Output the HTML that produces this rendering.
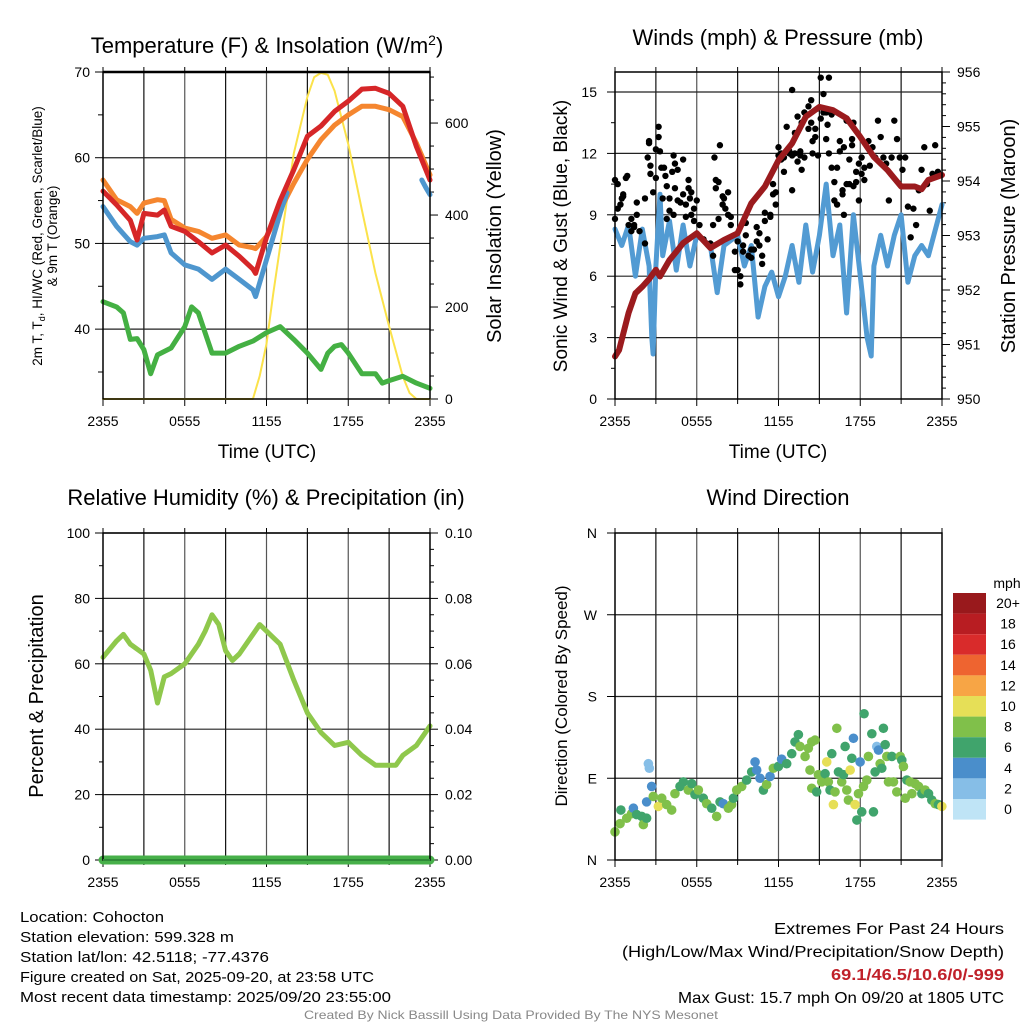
<!DOCTYPE html>
<html><head><meta charset="utf-8"><style>
html,body{margin:0;padding:0;background:#fff;overflow:hidden;}
svg{display:block;font-family:"Liberation Sans",sans-serif;}
</style></head><body>
<svg id="fig" xmlns="http://www.w3.org/2000/svg" width="1024" height="1024" viewBox="0 0 1024 1024">
<rect width="1024" height="1024" fill="#fff"/>
<g id="layer"></g>
<text x="267" y="53" font-size="22" text-anchor="middle">Temperature (F) &amp; Insolation (W/m<tspan dy="-8" font-size="14">2</tspan><tspan dy="8">)</tspan></text>
<text x="778" y="45" font-size="22" text-anchor="middle">Winds (mph) &amp; Pressure (mb)</text>
<text x="266" y="505" font-size="22" text-anchor="middle">Relative Humidity (%) &amp; Precipitation (in)</text>
<text x="778" y="505" font-size="22" text-anchor="middle">Wind Direction</text>
<text x="267" y="458" font-size="19" text-anchor="middle">Time (UTC)</text>
<text x="778" y="458" font-size="19" text-anchor="middle">Time (UTC)</text>
<g transform="translate(42,236) rotate(-90)">
<text x="0" y="0" font-size="13.5" text-anchor="middle">2m T, T<tspan font-size="9" dy="3">d</tspan><tspan dy="-3">, HI/WC (Red, Green, Scarlet/Blue)</tspan></text>
<text x="0" y="15" font-size="13.5" text-anchor="middle">&amp; 9m T (Orange)</text></g>
<text transform="translate(501,236) rotate(-90)" font-size="20" text-anchor="middle">Solar Insolation (Yellow)</text>
<text transform="translate(567,236) rotate(-90)" font-size="19" text-anchor="middle">Sonic Wind &amp; Gust (Blue, Black)</text>
<text transform="translate(1015,236) rotate(-90)" font-size="20" text-anchor="middle">Station Pressure (Maroon)</text>
<text transform="translate(43,696) rotate(-90)" font-size="20" text-anchor="middle">Percent &amp; Precipitation</text>
<text transform="translate(567,696) rotate(-90)" font-size="17" text-anchor="middle">Direction (Colored By Speed)</text>
<g font-size="15">
<text x="20" y="922" textLength="144" lengthAdjust="spacingAndGlyphs">Location: Cohocton</text>
<text x="20" y="942" textLength="214" lengthAdjust="spacingAndGlyphs">Station elevation: 599.328 m</text>
<text x="20" y="962" textLength="249" lengthAdjust="spacingAndGlyphs">Station lat/lon: 42.5118; -77.4376</text>
<text x="20" y="982" textLength="354" lengthAdjust="spacingAndGlyphs">Figure created on Sat, 2025-09-20, at 23:58 UTC</text>
<text x="20" y="1002" textLength="371" lengthAdjust="spacingAndGlyphs">Most recent data timestamp: 2025/09/20 23:55:00</text>
</g>
<g font-size="16">
<text x="774" y="934" textLength="230" lengthAdjust="spacingAndGlyphs">Extremes For Past 24 Hours</text>
<text x="622" y="957" textLength="382" lengthAdjust="spacingAndGlyphs">(High/Low/Max Wind/Precipitation/Snow Depth)</text>
<text x="831" y="980" textLength="173" lengthAdjust="spacingAndGlyphs" fill="#c0212a" font-weight="bold">69.1/46.5/10.6/0/-999</text>
<text x="678" y="1003" textLength="326" lengthAdjust="spacingAndGlyphs">Max Gust: 15.7 mph On 09/20 at 1805 UTC</text>
</g>
<text x="304" y="1019" font-size="12" fill="#888" textLength="414" lengthAdjust="spacingAndGlyphs">Created By Nick Bassill Using Data Provided By The NYS Mesonet</text>
</svg>
<script>
const tempHours = [0,1,2,2.5,3,4,4.5,5,6,7,8,9,10,11,11.2,12,13,14,15,16,17,18,19,20,21,22,23,24];
const tempRed = [56.1,54.5,52.7,50.4,53.5,53.3,53.9,52,51.4,50.2,48.9,49.8,48.5,47,46.5,50.7,55,58.6,62.5,63.7,65.4,66.6,68,68.1,67.5,66,61.3,57.4];
const tempOrange = [57.4,55.1,54.3,53.5,54.7,55.1,55,52.8,51.8,51.4,50.6,51,49.8,49.5,49.4,50.8,53.9,57,59.8,62.1,63.8,65,66,66,65.6,64.8,61.7,58];
const heatIndexHours = [0,1,2,2.5,3,4,4.5,5,6,7,8,9,10,11,11.2,12,13,13.5];
const heatIndex = [54.3,52,50.2,49.8,50.6,50.8,51,48.9,47.5,47,45.8,47,45.8,44.6,43.8,48.1,53.5,55.9];
const heatIndexHours2 = [23.4,23.7,24];
const heatIndex2 = [57.4,56.5,55.7];
const dewHours = [0,1,1.5,2,2.5,3,3.5,4,5,6,6.5,7,8,9,10,11,12,13,14,15,16,16.5,17,17.5,18,19,20,20.5,21,22,23,24];
const dewPoint = [43.2,42.6,41.9,38.8,38.9,37.6,34.8,37,37.8,40.3,42.6,41.9,37.2,37.2,38,38.6,39.6,40.3,38.8,37.2,35.3,37.2,38,38.2,37.2,34.8,34.8,33.7,34,34.5,33.7,33.1];
const solarHours = [0,11,11.5,12,12.5,13,14,15,15.5,16,16.5,17,18,19,20,21,22,22.5,23,24];
const solar = [0,0,50,120,230,331,534,657,700,709,705,670,554,411,273,158,49,13,0,0];

const presHours = [0,0.3,1,1.5,2,2.5,3,3.3,4,4.5,5,6,7,8,9,10,11,12,13,14,15,16,17,18,19,20,21,22,22.5,23,24];
const pressure = [950.78,950.9,951.58,951.94,952.06,952.2,952.37,952.25,952.55,952.7,952.86,953.04,952.77,952.92,953.04,953.59,953.9,954.38,954.69,955.18,955.36,955.3,955.15,954.81,954.44,954.2,953.9,953.9,953.85,954.02,954.11];
const windHours = [0,0.5,1,1.5,2,2.5,2.7,2.8,3,3.3,3.5,4,4.5,5,5.5,6,7,7.5,8,9,9.5,10,10.5,11,11.5,12,12.5,13,13.5,14,14.5,15,15.5,16,16.5,17,17.5,18,18.5,18.8,19,19.5,20,20.5,21,21.5,22,22.5,23,24];
const windSpeed = [8.3,7.5,8.5,6.0,8.3,6.5,3.0,2.2,6.5,10.0,7,8.7,6.3,8.5,6.5,8,7.5,5.2,7.5,8,6.5,7.5,4.0,5.5,6.2,5.0,6.0,7.5,5.7,8.5,6.2,8.0,10.5,7,8.5,4.2,9.0,6.0,3.0,2.1,6.5,8.0,6.5,8.0,9.0,5.7,7.0,7.5,7,9.5];
const gustHours = [0,0,0.2,0.2,0.4,0.5,0.6,0.6,0.8,0.9,1.0,1.2,1.2,1.4,1.4,1.6,1.6,1.8,2.2,2.2,2.4,2.5,2.5,2.6,2.6,2.8,3.0,3.0,3.2,3.2,3.3,3.4,3.5,3.6,3.7,3.8,3.8,4.0,4.0,4.2,4.3,4.3,4.4,4.4,4.6,4.6,4.8,5.0,5.0,5.2,5.2,5.4,5.4,5.5,5.6,5.6,5.8,5.8,6.0,6.2,6.5,7.0,7.2,7.2,7.3,7.4,7.4,7.6,7.6,7.7,7.9,7.9,8.0,8.1,8.3,8.3,8.5,8.5,8.8,8.8,9.0,9.0,9.2,9.2,9.4,9.4,9.6,9.6,9.8,10.0,10.0,10.2,10.4,10.4,10.6,10.6,10.8,10.8,11.0,11.0,11.2,11.4,11.4,11.6,11.6,11.8,11.8,12.0,12.0,12.2,12.2,12.4,12.4,12.6,12.8,12.8,13.0,13.0,13.0,13.2,13.2,13.4,13.4,13.6,13.6,13.7,13.7,13.9,13.9,14.2,14.2,14.4,14.4,14.5,14.5,14.7,14.7,14.9,14.9,15.1,15.1,15.3,15.3,15.5,15.5,15.6,15.7,15.7,15.9,15.9,16.1,16.1,16.3,16.3,16.5,16.5,16.7,16.7,16.8,16.8,17.0,17.0,17.0,17.2,17.2,17.4,17.4,17.5,17.5,17.7,17.7,17.9,17.9,18.1,18.1,18.3,18.3,18.6,18.7,18.9,19.1,19.3,19.5,19.7,19.9,20.1,20.3,20.5,20.7,20.9,21.1,21.3,21.5,21.7,21.9,22.1,22.3,22.5,22.7,22.9,23.1,23.3,23.5,23.7,23.9];
const gustSpeed = [10.7,8.8,9.3,10.5,9.5,9.8,10.0,9.9,10.8,10.9,8.5,8.2,8.8,8.5,8.4,9.0,9.6,8.2,7.6,9.8,11.8,12.5,12.6,11.4,11.0,10.1,12.2,10.8,12.8,13.3,12.1,11.3,9.8,11.3,10.9,8.8,10.4,9.2,9.8,11.1,11.9,9.0,11.5,10.3,11.2,9.7,9.6,11.7,10.0,9.5,8.9,10.3,10.7,9.8,10.1,9.0,9.3,8.7,9.7,8.5,7.8,7.6,8.5,7.0,11.8,10.7,10.3,10.6,8.8,12.4,9.5,9.9,9.8,9.3,10.1,9.0,8.5,8.9,6.3,7.2,7.7,6.3,5.6,6.0,7.5,7.2,8.6,8.0,7.0,6.9,7.3,7.3,8.4,7.7,8.1,7.5,6.6,7.0,8.7,9.1,7.8,9.0,8.9,10.0,10.5,10.1,9.5,11.9,12.3,12.0,11.7,11.1,11.8,13.3,12.1,12.0,15.1,11.9,10.2,13.0,12.0,13.8,11.6,11.9,12.1,11.2,13.5,14.0,11.8,14.3,13.2,14.6,13.5,12.0,12.6,12.8,13.2,14.2,11.9,13.7,15.7,14.0,14.9,14.0,12.7,13.4,15.7,12.0,11.3,13.9,9.7,10.6,9.5,11.3,12.6,12.1,10.0,10.2,9.0,12.3,10.5,13.6,13.7,11.7,10.5,12.4,12.7,13.5,10.4,11.1,10.6,11.5,9.7,11.8,11.0,11.3,10.7,12.6,11.4,12.3,11.8,13.6,12.8,11.8,11.5,9.7,11.8,13.6,12.7,11.8,11.2,11.8,9.4,7.9,9.3,8.5,10.2,11.2,12.3,10.5,9.2,11.0,12.4,11.1];

const rhHours = [0,1,1.5,2,3,3.5,4,4.5,5,6,7,7.5,8,8.5,9,9.5,10,11,11.5,12,13,14,15,16,17,18,19,20,21,21.5,22,23,24];
const rh = [62,67,69,66,63,58,48,56,57,60,66,70,75,72,64,61,63,69,72,70,66,55,45,39,35,36,32,29,29,29,32,35,41];
const precipHours = [0,24];
const precip = [0,0];

const dirHours = [0,0.37,0.43,0.86,1.22,1.35,1.59,1.96,2.08,2.32,2.32,2.45,2.52,2.69,2.81,3.18,3.43,3.79,4.16,4.4,4.77,5.02,5.38,5.63,5.87,6.12,6.48,6.73,7.1,7.46,7.71,7.95,8.32,8.56,8.69,8.93,9.3,9.66,10.03,10.28,10.4,10.64,10.89,11.13,11.38,11.62,11.99,12.23,12.6,12.97,13.21,13.46,13.58,13.95,14.19,14.44,14.68,14.31,14.44,14.8,14.93,15.17,15.42,15.54,15.66,15.78,15.91,16.03,16.15,16.28,16.4,16.64,16.77,16.89,17.01,17.13,17.26,17.38,17.5,17.62,17.75,17.87,17.99,18.11,18.24,18.28,18.48,18.6,18.85,18.97,19.09,19.21,19.34,19.46,19.58,19.7,19.83,19.95,20.07,20.32,20.44,20.68,20.93,21.05,21.17,21.3,21.42,21.66,21.79,22.03,22.28,22.52,22.76,23.01,23.25,23.5,23.74,23.99];
const dirDegrees = [31,40,55,46,51,57,50,48,39,46,64,106,101,81,70,59,68,61,55,73,81,86,77,84,72,77,68,62,57,48,64,62,57,61,68,77,81,88,97,108,99,90,77,83,92,101,103,111,106,117,130,138,125,114,123,130,132,99,79,75,94,86,95,108,86,77,117,61,75,145,97,86,94,125,77,66,99,112,134,61,44,73,108,53,81,161,88,114,139,53,97,125,121,106,101,145,127,114,86,114,86,75,114,110,103,68,88,86,73,84,81,73,77,73,66,62,61,59];
const dirSpeeds = [8,8,6,8,8,4,6,6,8,6,4,2,2,4,8,10,8,8,8,8,6,6,8,6,6,8,6,8,6,8,6,4,8,8,6,8,8,6,6,4,4,4,6,8,4,8,6,4,6,6,6,6,8,8,8,8,8,8,8,6,8,8,6,10,8,6,6,10,8,8,6,8,6,6,8,8,10,6,4,10,6,8,4,6,8,6,8,8,6,6,6,2,4,8,6,6,6,8,8,6,8,8,8,6,8,8,6,8,8,8,8,6,8,6,6,8,6,10];
const speedLabels = ["20+","18","16","14","12","10","8","6","4","2","0"];
const speedColors = ["#99191c","#b81d22","#d92b2b","#ee6430","#f7a545","#e6df57","#80c04a","#40a46c","#4a8ecb","#86bee7","#bfe4f6"];

const xTickLabels = ["2355","0555","1155","1755","2355"];
const tempTicks = [40,50,60,70];
const solarTicks = [0,200,400,600];
const windTicks = [0,3,6,9,12,15];
const presTicks = [950,951,952,953,954,955,956];
const rhTicks = [0,20,40,60,80,100];
const precipTickLabels = ["0.00","0.02","0.04","0.06","0.08","0.10"];
const dirTickLabels = ["N","E","S","W","N"];

const NS = "http://www.w3.org/2000/svg";
const layer = document.getElementById('layer');
function el(tag, attrs, parent){ const e=document.createElementNS(NS,tag); for(const k in attrs) e.setAttribute(k,attrs[k]); (parent||layer).appendChild(e); return e; }
function lin(d0,d1,r0,r1){ return v => r0 + (v-d0)*(r1-r0)/(d1-d0); }

function panel(name){
  const g = el('g',{});
  
  
  return g;
}
function vgrid(g,xs,y0,y1){
  const xh = lin(0,24,xs[0],xs[1]);
  for(let h=3;h<24;h+=3){
    const l = el('line',{x1:xh(h),x2:xh(h),y1:y0,y2:y1,stroke:(h%6===0)?'#555':'#111','stroke-width':1.2},g);
    
    
  }
  for(let h=0;h<=24;h+=3){
    const t = el('line',{x1:xh(h),x2:xh(h),y1:y1,y2:y1+(h%6===0?7:5),stroke:'#000','stroke-width':1},g);
    
    
    const t2 = el('line',{x1:xh(h),x2:xh(h),y1:y0,y2:y0-5,stroke:'#000','stroke-width':1},g);
    
    
  }
  xTickLabels.forEach((s,i)=>{
    const t = el('text',{x:xh(i*6),y:y1+27,'font-size':14,'text-anchor':'middle'},g);
    t.textContent = s;
    
    
  });
}
function hline(g,y,x0,x1,col){
  const l = el('line',{x1:x0,x2:x1,y1:y,y2:y,stroke:col||'#222','stroke-width':1.2},g);
  
  
}
function ytick(g,x,y,len,label,anchor,lx){
  const t = el('line',{x1:x,x2:x+len,y1:y,y2:y,stroke:'#000','stroke-width':1},g);
  
  
  if(label!==null && label!==undefined){
    const tx = el('text',{x:lx,y:y+5,'font-size':14,'text-anchor':anchor},g);
    tx.textContent = label;
    
    
  }
}
function frame(g,x0,x1,y0,y1){
  const r = el('rect',{x:x0,y:y0,width:x1-x0,height:y1-y0,fill:'none',stroke:'#000','stroke-width':1.5},g);
  
  
}
function path(g,hours,vals,xs,ys,col,w,name){
  let d='';
  const n = Math.min(hours.length, vals.length);
  for(let i=0;i<n;i++){ d += (i?'L':'M') + xs(hours[i]).toFixed(1)+','+ys(vals[i]).toFixed(1); }
  const p = el('path',{d:d,fill:'none',stroke:col,'stroke-width':w,'stroke-linejoin':'round','stroke-linecap':'round'},g);
  
  
  return p;
}

{
  const X0=103,X1=430,Y0=72,Y1=399;
  const g = panel('temperature-panel');
  const xs = lin(0,24,X0,X1), yt = lin(70,31.85,Y0,Y1), ys = lin(0,711,Y1,Y0);
  vgrid(g,[X0,X1],Y0,Y1);
  tempTicks.forEach(v=>{ hline(g,yt(v),X0,X1); ytick(g,X0-8,yt(v),8,String(v),'end',90); });
  [35,45,55,65].forEach(v=>ytick(g,X0-5,yt(v),5,null));
  solarTicks.forEach(v=>ytick(g,X1,ys(v),8,String(v),'start',445));
  [100,300,500,700,50,150,250,350,450,550,650].forEach(v=>ytick(g,X1,ys(v),4,null));
  path(g,solarHours,solar,xs,ys,'#fbe24a',2,'solar-insolation-line');
  path(g,dewHours,dewPoint,xs,yt,'#44b043',5,'dewpoint-line');
  path(g,tempHours,tempOrange,xs,yt,'#f5862f',5,'temperature-9m-line');
  path(g,heatIndexHours,heatIndex,xs,yt,'#4e96ce',5,'heat-index-line');
  path(g,heatIndexHours2,heatIndex2,xs,yt,'#4e96ce',5,'heat-index-line-end');
  path(g,tempHours,tempRed,xs,yt,'#d62628',5,'temperature-2m-line');
  frame(g,X0,X1,Y0,Y1);
  const top = el('line',{x1:X0,x2:X1,y1:Y0,y2:Y0,stroke:'#000','stroke-width':2.5},g);
  
  
}
{
  const X0=615,X1=942,Y0=72,Y1=399;
  const g = panel('winds-panel');
  const xs = lin(0,24,X0,X1), yw = lin(0,15,Y1,92), yp = lin(950,956,Y1,Y0);
  vgrid(g,[X0,X1],Y0,Y1);
  windTicks.forEach(v=>{ if(v>0) hline(g,yw(v),X0,X1); ytick(g,X0-8,yw(v),8,String(v),'end',597); });
  [1.5,4.5,7.5,10.5,13.5].forEach(v=>ytick(g,X0-4,yw(v),4,null));
  presTicks.forEach(v=>ytick(g,X1,yp(v),8,String(v),'start',957));
  for(let v=950.2;v<956;v+=0.2){ ytick(g,X1,yp(v),4,null); }
  path(g,windHours,windSpeed,xs,yw,'#529bd3',5,'sonic-wind-line');
  const ng = Math.min(gustHours.length, gustSpeed.length);
  for(let i=0;i<ng;i++){
    const c = el('circle',{cx:xs(gustHours[i]),cy:yw(gustSpeed[i]),r:3.2,fill:'#000'},g);
    
    
  }
  path(g,presHours,pressure,xs,yp,'#9b1b1e',6,'pressure-line');
  frame(g,X0,X1,Y0,Y1);
}
{
  const X0=103,X1=430,Y0=533,Y1=860;
  const g = panel('humidity-panel');
  const xs = lin(0,24,X0,X1), yr = lin(0,100,Y1,Y0), yq = lin(0,0.1,Y1,Y0);
  vgrid(g,[X0,X1],Y0,Y1);
  rhTicks.forEach((v,i)=>{ if(v>0) hline(g,yr(v),X0,X1); ytick(g,X0-8,yr(v),8,String(v),'end',90); ytick(g,X1,yr(v),8,precipTickLabels[i],'start',445); });
  [10,30,50,70,90].forEach(v=>ytick(g,X0-4,yr(v),4,null));
  for(let v=5;v<100;v+=5){ if(v%20) ytick(g,X1,yr(v),4,null); }
  path(g,rhHours,rh,xs,yr,'#8fc84c',5,'relative-humidity-line');
  path(g,precipHours,precip,xs,yq,'#47b04a',9,'precipitation-line');
  frame(g,X0,X1,Y0,Y1);
  const b = el('line',{x1:X0,x2:X1,y1:Y1,y2:Y1,stroke:'#2f8a38','stroke-width':2},g);
  
  
}
{
  const X0=615,X1=942,Y0=533,Y1=860;
  const g = panel('wind-direction-panel');
  const xs = lin(0,24,X0,X1), yd = lin(0,360,Y1,Y0);
  vgrid(g,[X0,X1],Y0,Y1);
  dirTickLabels.forEach((s,i)=>{ const v=i*90; if(i>0&&i<4) hline(g,yd(v),X0,X1); ytick(g,X0-8,yd(v),8,s,'end',597); });
  function colorFor(s){ let idx = 10 - Math.round(Math.min(s,20)/2); return speedColors[idx]; }
  const nd = Math.min(dirHours.length, dirDegrees.length, dirSpeeds.length);
  for(let i=0;i<nd;i++){
    const c = el('circle',{cx:xs(dirHours[i]),cy:yd(dirDegrees[i]),r:4.8,fill:colorFor(dirSpeeds[i])},g);
    
    
  }
  frame(g,X0,X1,Y0,Y1);
  const cb = el('g',{},g);
  
  
  const t = el('text',{x:1007,y:588,'font-size':14,'text-anchor':'middle'},cb);
  t.textContent='mph';
  
  
  speedLabels.forEach((s,i)=>{
    const r = el('rect',{x:953,y:593+i*20.6,width:33,height:20.6,fill:speedColors[i]},cb);
    
    
    const tx = el('text',{x:1008,y:593+i*20.6+15,'font-size':14,'text-anchor':'middle'},cb);
    tx.textContent = s;
    
    
  });
}
</script>
</body></html>
